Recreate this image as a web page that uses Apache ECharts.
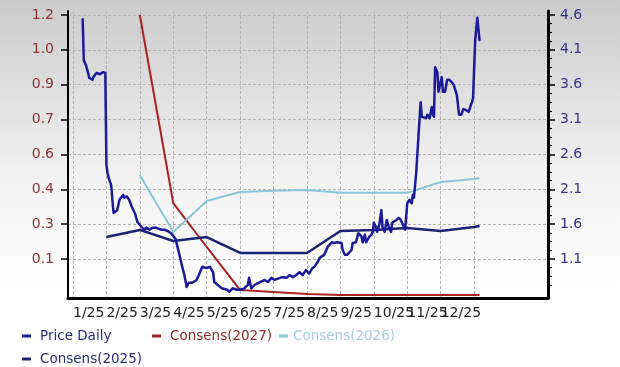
<!DOCTYPE html>
<html><head><meta charset="utf-8">
<script src="https://cdn.jsdelivr.net/npm/echarts@6/dist/echarts.min.js"></script>
<style>html,body{margin:0;padding:0;background:#fff}#c{width:620px;height:367px}</style>
</head><body><div id="c"></div>
<script>
// ---- data ----
const monthLabels = ['1/25','2/25','3/25','4/25','5/25','6/25','7/25','8/25','9/25','10/25','11/25','12/25',''];
const monthGrid = [0,1,2,3,4,5,6,7,8,9,10,11,12];           // month starts (Jan 2025 = 0)
const leftTicks = [0.1,0.2571,0.4143,0.5714,0.7286,0.8857,1.0429,1.2];
const leftLabels = ['0.1','0.3','0.4','0.6','0.7','0.9','1.0','1.2'];
const rightTicks = [1.1,1.6,2.1,2.6,3.1,3.6,4.1,4.6];

const consensDates = ['2025-02-01','2025-03-01','2025-04-01','2025-05-01','2025-06-01','2025-07-01','2025-08-01','2025-09-01','2025-10-01','2025-11-01','2025-12-01','2026-01-01','2026-01-06'];
const cons2025 = [0.199,0.231,0.181,0.199,0.127,0.127,0.127,0.226,0.231,0.240,0.226,0.244,0.249];
const cons2026 = [null,0.479,0.222,0.361,0.402,0.407,0.411,0.398,0.398,0.398,0.447,0.461,0.465];
const cons2027 = [null,1.2,0.352,0.154,-0.040,-0.049,-0.058,-0.062,-0.062,-0.062,-0.062,-0.062,-0.062];

const priceDates = [
'2025-01-10','2025-01-11','2025-01-13','2025-01-15','2025-01-16','2025-01-19','2025-01-20','2025-01-23','2025-01-26','2025-01-29','2025-01-31',
'2025-02-01','2025-02-02','2025-02-03','2025-02-05','2025-02-06','2025-02-07','2025-02-10','2025-02-12','2025-02-15','2025-02-16','2025-02-18','2025-02-20','2025-02-22','2025-02-25','2025-02-27',
'2025-03-02','2025-03-05','2025-03-07','2025-03-10','2025-03-13','2025-03-16','2025-03-19','2025-03-21','2025-03-24','2025-03-27','2025-03-30',
'2025-04-01','2025-04-03','2025-04-05','2025-04-07','2025-04-09','2025-04-11','2025-04-13','2025-04-15','2025-04-18','2025-04-22','2025-04-25','2025-04-27',
'2025-05-01','2025-05-04','2025-05-07','2025-05-08','2025-05-11','2025-05-15','2025-05-20','2025-05-22','2025-05-25','2025-05-29','2025-05-31',
'2025-06-04','2025-06-08','2025-06-09','2025-06-11','2025-06-14','2025-06-18','2025-06-23','2025-06-26','2025-06-29',
'2025-07-02','2025-07-07','2025-07-09','2025-07-13','2025-07-16','2025-07-19','2025-07-22','2025-07-25','2025-07-28','2025-07-31',
'2025-08-03','2025-08-06','2025-08-08','2025-08-11','2025-08-13','2025-08-14','2025-08-17','2025-08-20','2025-08-24','2025-08-26','2025-08-29',
'2025-09-02','2025-09-03','2025-09-05','2025-09-07','2025-09-11','2025-09-12','2025-09-15','2025-09-17','2025-09-20','2025-09-21','2025-09-23','2025-09-24','2025-09-27','2025-09-29','2025-09-30',
'2025-10-01','2025-10-03','2025-10-04','2025-10-06','2025-10-08','2025-10-09','2025-10-11','2025-10-13','2025-10-15','2025-10-17','2025-10-18','2025-10-22','2025-10-24','2025-10-26','2025-10-28','2025-10-30',
'2025-11-01','2025-11-03','2025-11-05','2025-11-06','2025-11-07','2025-11-09','2025-11-11','2025-11-13','2025-11-14','2025-11-18','2025-11-19','2025-11-21','2025-11-23','2025-11-24','2025-11-25','2025-11-26','2025-11-28','2025-11-29','2025-11-30',
'2025-12-02','2025-12-03','2025-12-05','2025-12-07','2025-12-09','2025-12-11','2025-12-13','2025-12-16','2025-12-18','2025-12-20','2025-12-22','2025-12-24','2025-12-27','2025-12-29','2025-12-30','2025-12-31',
'2026-01-02','2026-01-04','2026-01-05','2026-01-06'];
const priceValues = [
4.54,3.95,3.88,3.77,3.70,3.67,3.71,3.77,3.75,3.78,3.77,
2.45,2.33,2.26,2.16,1.95,1.76,1.80,1.95,2.02,1.98,2.00,1.95,1.86,1.75,1.63,
1.57,1.52,1.55,1.52,1.55,1.55,1.53,1.52,1.52,1.50,1.47,
1.43,1.39,1.26,1.13,0.99,0.87,0.70,0.76,0.76,0.80,0.91,0.99,
0.97,0.99,0.91,0.77,0.73,0.68,0.66,0.63,0.68,0.66,0.66,
0.67,0.73,0.83,0.68,0.73,0.76,0.80,0.77,0.83,
0.80,0.83,0.84,0.83,0.87,0.84,0.87,0.91,0.87,0.94,
0.89,0.97,0.99,1.06,1.12,1.12,1.16,1.27,1.34,1.33,1.34,
1.33,1.23,1.16,1.16,1.23,1.33,1.34,1.47,1.42,1.34,1.45,1.34,1.42,1.45,1.49,
1.62,1.56,1.49,1.59,1.80,1.56,1.49,1.66,1.55,1.49,1.62,1.66,1.69,1.66,1.59,1.52,
1.90,1.95,1.90,2.02,1.98,2.33,2.85,3.35,3.14,3.12,3.17,3.12,3.28,3.17,3.14,3.85,3.78,3.50,3.52,
3.71,3.50,3.50,3.67,3.67,3.64,3.60,3.45,3.17,3.17,3.25,3.24,3.21,3.31,3.35,3.41,
4.24,4.56,4.57,4.24];

// ---- helpers ----
function monthPos(s){
  const p = s.split('-').map(Number);
  const dim = new Date(p[0], p[1], 0).getDate();
  return (p[0]-2025)*12 + (p[1]-1) + (p[2]-1)/dim;
}
function pairs(dates, vals){
  const out=[];
  dates.forEach((d,i)=>{ if(vals[i]!==null) out.push([monthPos(d), vals[i]]); });
  return out;
}
const rightMinor = [];
rightTicks.forEach(t=>{ [0.125,0.25,0.375].forEach(k=>rightMinor.push(+(t-k).toFixed(3))); });

const FONT = 'DejaVu Sans';
const gridDash = {type:[3,2], color:'#b4b4b4', width:1};
const leftMin=-0.076, leftMax=1.218, rightMin=0.541, rightMax=4.657;

const chart = echarts.init(document.getElementById('c'), null, {renderer:'canvas'});
const legendBase = {orient:'horizontal', padding:0, itemWidth:9, itemHeight:3, icon:'rect', selectedMode:false, itemGap:0};
chart.setOption({
  animation:false,
  backgroundColor:{type:'linear',x:0,y:0,x2:0,y2:1,colorStops:[
    {offset:0,color:'#cbcbcb'},{offset:0.5,color:'#f3f3f3'},{offset:0.8,color:'#ffffff'},{offset:1,color:'#ffffff'}]},
  grid:{left:68, right:72, top:11, bottom:69, containLabel:false},
  legend:[
    Object.assign({}, legendBase, {data:['Price Daily'], left:22, top:328, textStyle:{fontFamily:FONT,fontSize:13.5,color:'#2b2b85',padding:[0,0,0,4],lineHeight:16}}),
    Object.assign({}, legendBase, {data:['Consens(2027)'], left:152, top:328, textStyle:{fontFamily:FONT,fontSize:13.5,color:'#8e2b2b',padding:[0,0,0,4],lineHeight:16}}),
    Object.assign({}, legendBase, {data:['Consens(2026)'], left:279, top:328, textStyle:{fontFamily:FONT,fontSize:13.5,color:'#a7cddd',padding:[0,0,0,0],lineHeight:16}}),
    Object.assign({}, legendBase, {data:['Consens(2025)'], left:22, top:351, textStyle:{fontFamily:FONT,fontSize:13.5,color:'#2b2b78',padding:[0,0,0,4],lineHeight:16}})
  ],
  xAxis:{
    type:'value', min:-0.149, max:14.21,
    axisLine:{show:true, onZero:false, lineStyle:{color:'#000', width:3}},
    axisTick:{show:false, customValues:monthGrid},
    axisLabel:{customValues:monthGrid, align:'left', margin:8, color:'#222', hideOverlap:false,
      fontFamily:FONT, fontSize:14, formatter:v=>monthLabels[Math.round(v)] || ''},
    splitLine:{show:true, lineStyle:gridDash}
  },
  yAxis:[
    {type:'value', position:'left', min:leftMin, max:leftMax,
      axisLine:{show:true, onZero:false, lineStyle:{color:'#000', width:2}},
      axisTick:{show:true, inside:false, length:7, customValues:leftTicks, lineStyle:{color:'#000', width:1.5}},
      axisLabel:{customValues:leftTicks, margin:14, color:'#8b3434', fontFamily:FONT, fontSize:14, hideOverlap:false,
        formatter:v=>{let bi=0,bd=1e9; leftTicks.forEach((t,i)=>{const d=Math.abs(t-v); if(d<bd){bd=d;bi=i;}}); return leftLabels[bi];}},
      splitLine:{show:true, lineStyle:gridDash}},
    {type:'value', position:'right', min:rightMin, max:rightMax,
      axisLine:{show:true, onZero:false, lineStyle:{color:'#000', width:3}},
      axisTick:{show:true, inside:false, length:7, customValues:rightTicks, lineStyle:{color:'#000', width:1.5}},
      axisLabel:{customValues:rightTicks, margin:12, color:'#33338a', fontFamily:FONT, fontSize:14, hideOverlap:false,
        formatter:v=>v.toFixed(1)},
      splitLine:{show:false}},
    {type:'value', position:'right', min:rightMin, max:rightMax,
      axisLine:{show:false, onZero:false},
      axisTick:{show:true, inside:false, length:4, customValues:rightMinor, lineStyle:{color:'#000', width:1.2}},
      axisLabel:{show:false},
      splitLine:{show:false}}
  ],
  series:[
    {name:'Consens(2027)', type:'line', yAxisIndex:0, showSymbol:false, symbol:'none', data:pairs(consensDates, cons2027),
      color:'#a82222', lineStyle:{color:'#a82222', width:2}, z:2},
    {name:'Consens(2026)', type:'line', yAxisIndex:0, showSymbol:false, symbol:'none', data:pairs(consensDates, cons2026),
      color:'#8ac6da', lineStyle:{color:'#8ac6da', width:2}, z:2},
    {name:'Consens(2025)', type:'line', yAxisIndex:0, showSymbol:false, symbol:'none', data:pairs(consensDates, cons2025),
      color:'#1d2372', lineStyle:{color:'#1d2372', width:2.5}, z:3},
    {name:'Price Daily', type:'line', yAxisIndex:1, showSymbol:false, symbol:'none', data:pairs(priceDates, priceValues),
      color:'#1a1a9a', lineStyle:{color:'#1a1a9a', width:2.5, cap:'round', join:'round'}, z:4}
  ]
});
</script></body></html>
